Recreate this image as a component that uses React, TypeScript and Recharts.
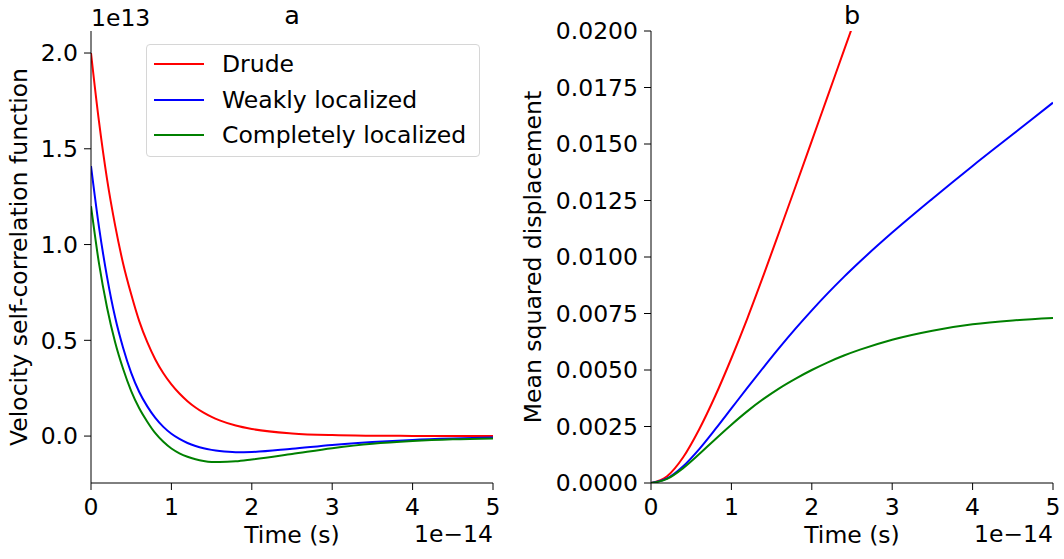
import React from 'react';
import { LineChart, Line, XAxis, YAxis } from 'recharts';

// panel a: velocity self-correlation function (units of 1e13), time in 1e-14 s
const vacfTime = [0, 0.1, 0.2, 0.3, 0.4, 0.5, 0.6, 0.7, 0.8, 0.9, 1.0, 1.1, 1.2, 1.3, 1.4, 1.5, 1.6, 1.8, 2.0, 2.5, 3.0, 3.5, 4.0, 4.5, 5.0];
const vacfDrude = [2.0, 1.64, 1.34, 1.1, 0.9, 0.74, 0.6, 0.49, 0.4, 0.328, 0.27, 0.222, 0.182, 0.149, 0.122, 0.1, 0.082, 0.055, 0.037, 0.014, 0.005, 0.002, 0.001, 0.0, 0.0];
const vacfWeak = [1.41, 1.09, 0.83, 0.62, 0.46, 0.33, 0.23, 0.155, 0.095, 0.048, 0.012, -0.015, -0.036, -0.052, -0.064, -0.072, -0.078, -0.084, -0.083, -0.066, -0.046, -0.031, -0.02, -0.013, -0.008];
const vacfFull = [1.2, 0.9, 0.67, 0.49, 0.35, 0.235, 0.145, 0.075, 0.015, -0.03, -0.065, -0.09, -0.108, -0.121, -0.13, -0.135, -0.136, -0.132, -0.122, -0.093, -0.063, -0.04, -0.026, -0.017, -0.012];

// panel b: mean squared displacement
const msdTime = [0, 0.2, 0.4, 0.6, 0.8, 1.0, 1.2, 1.4, 1.6, 1.8, 2.0, 2.2, 2.4, 2.6, 3.0, 3.5, 4.0, 4.5, 5.0];
const msdDrude = [0, 0.0003, 0.00114, 0.00238, 0.00386, 0.00552, 0.0073, 0.0092, 0.01116, 0.01314, 0.01514, 0.01714, 0.01914, 0.02114, null, null, null, null, null];
const msdWeak = [0, 0.0002, 0.00074, 0.0015, 0.00238, 0.0033, 0.00422, 0.00512, 0.006, 0.00684, 0.00764, 0.0084, 0.00912, 0.0098, 0.01108, 0.01258, 0.01403, 0.01543, 0.01683];
const msdFull = [0, 0.00018, 0.00066, 0.00128, 0.00194, 0.00258, 0.00318, 0.00372, 0.0042, 0.00462, 0.005, 0.00534, 0.00564, 0.0059, 0.00634, 0.00674, 0.00702, 0.00719, 0.0073];

const timeTicks = [0, 1, 2, 3, 4, 5];
const vacfTicks = [0, 0.5, 1.0, 1.5, 2.0];
const msdTicks = [0, 0.0025, 0.005, 0.0075, 0.01, 0.0125, 0.015, 0.0175, 0.02];

const seriesNames = ['Drude', 'Weakly localized', 'Completely localized'];
const seriesColors = ['#ff0000', '#0000ff', '#008000'];

const FONT = 'DejaVu Sans, sans-serif';
const FS = 23.5;

const vacfRows = vacfTime.map((t, i) => ({ t, drude: vacfDrude[i], weak: vacfWeak[i], full: vacfFull[i] }));
const msdRows = msdTime.map((t, i) => ({ t, drude: msdDrude[i], weak: msdWeak[i], full: msdFull[i] }));
const keys = ['drude', 'weak', 'full'];

const tickStyle = { fill: '#000', fontSize: FS, fontFamily: FONT };

function Panel({ rows, yDomain, yTicks, fmt, yWidth }: any) {
  return (
    <div style={{ position: 'absolute', left: 0, top: 0 }}>
      <LineChart width={yWidth + 402 + 12} height={559} data={rows}
        margin={{ top: 31, right: 12, bottom: 46, left: 0 }}>
        <XAxis dataKey="t" type="number" domain={[0, 5]} ticks={timeTicks} allowDataOverflow
          stroke="#000" tickSize={7} tickMargin={8} height={30} tick={tickStyle} interval={0} />
        <XAxis xAxisId="top" dataKey="t" type="number" domain={[0, 5]} orientation="top"
          stroke="#000" tick={false} tickLine={false} height={0} />
        <YAxis type="number" domain={yDomain} ticks={yTicks} allowDataOverflow interval={0}
          stroke="#000" tickSize={7} tickMargin={6} width={yWidth} tick={tickStyle} tickFormatter={fmt} />
        <YAxis yAxisId="right" orientation="right" type="number" domain={yDomain}
          stroke="#000" tick={false} tickLine={false} width={0} />
        {keys.map((k, i) => (
          <Line key={k} dataKey={k} type="monotone" stroke={seriesColors[i]} strokeWidth={2}
            dot={false} isAnimationActive={false} connectNulls={false} />
        ))}
      </LineChart>
    </div>
  );
}

export default function App() {
  return (
    <div style={{ position: 'fixed', left: 0, top: 0, width: 1064, height: 559, background: '#fff', fontFamily: FONT }}>
      <Panel rows={vacfRows} yDomain={[-0.245, 2.115]} yTicks={vacfTicks} fmt={(v: number) => v.toFixed(1)} yWidth={91} />
      <Panel rows={msdRows} yDomain={[0, 0.02]} yTicks={msdTicks} fmt={(v: number) => v.toFixed(4)} yWidth={651} />

      <svg width={1064} height={559} style={{ position: 'absolute', left: 0, top: 0, pointerEvents: 'none' }}
        fontFamily={FONT} fontSize={FS} fill="#000">
        <text x={292} y={24} textAnchor="middle" fontSize={25.5}>a</text>
        <text x={852} y={24} textAnchor="middle" fontSize={25.5}>b</text>
        <text x={91} y={26}>1e13</text>
        <text x={292} y={543} textAnchor="middle">Time (s)</text>
        <text x={852} y={543} textAnchor="middle">Time (s)</text>
        <text x={493} y={542} textAnchor="end">1e−14</text>
        <text x={1053} y={542} textAnchor="end">1e−14</text>
        <text transform="rotate(-90, 27, 257)" x={27} y={257} textAnchor="middle">Velocity self-correlation function</text>
        <text transform="rotate(-90, 541, 257)" x={541} y={257} textAnchor="middle">Mean squared displacement</text>
      </svg>

      <div style={{ position: 'absolute', left: 146, top: 44, width: 334, height: 113, boxSizing: 'border-box',
        border: '1px solid #d6d6d6', borderRadius: 4, background: 'rgba(255,255,255,0.8)' }}>
        {seriesNames.map((name, i) => (
          <div key={name} style={{ position: 'absolute', left: 7, top: 19 + i * 35.5 - 14, height: 28,
            display: 'flex', alignItems: 'center', fontSize: FS, color: '#000', whiteSpace: 'nowrap' }}>
            <span style={{ display: 'inline-block', width: 50, height: 2, background: seriesColors[i], marginRight: 18 }} />
            {name}
          </div>
        ))}
      </div>
    </div>
  );
}
